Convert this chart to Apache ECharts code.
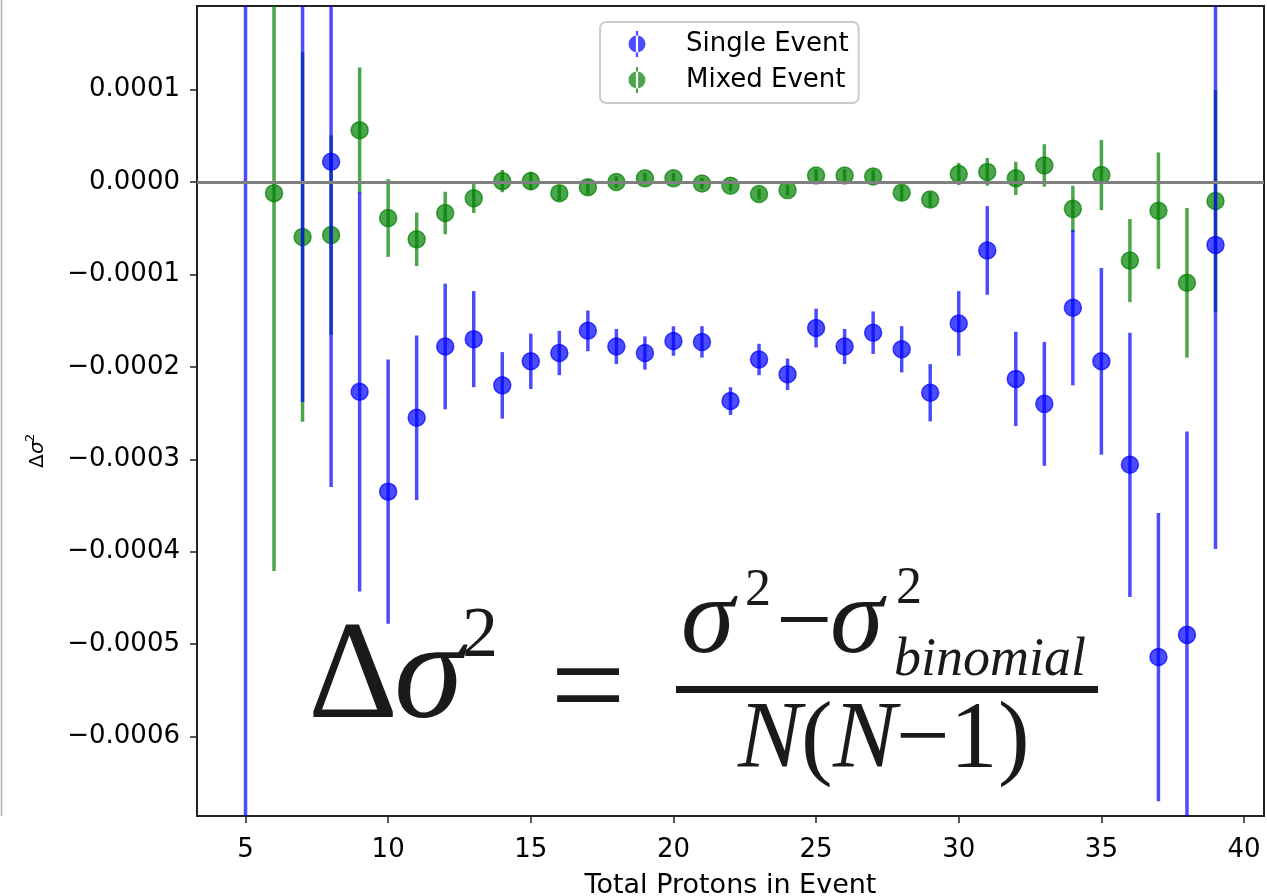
<!DOCTYPE html>
<html><head><meta charset="utf-8">
<script src="https://cdn.jsdelivr.net/npm/echarts@6/dist/echarts.min.js"></script>
<style>html,body{margin:0;padding:0;background:#fff}#c{width:1267px;height:896px}</style>
</head><body><div id="c"></div>
<script>
// ---------------- data ----------------
const protons = [5,6,7,8,9,10,11,12,13,14,15,16,17,18,19,20,21,22,23,24,25,26,27,28,29,30,31,32,33,34,35,36,37,38,39];
const seriesNames = ['Single Event', 'Mixed Event'];
// Single Event: value and error
const singleVal = [-9e-4, null, 2.5e-4, 0.22e-4, -2.27e-4, -3.35e-4, -2.55e-4, -1.78e-4, -1.70e-4, -2.20e-4, -1.94e-4, -1.85e-4, -1.61e-4, -1.78e-4, -1.85e-4, -1.72e-4, -1.73e-4, -2.37e-4, -1.92e-4, -2.08e-4, -1.58e-4, -1.78e-4, -1.63e-4, -1.81e-4, -2.28e-4, -1.53e-4, -0.74e-4, -2.13e-4, -2.40e-4, -1.36e-4, -1.94e-4, -3.06e-4, -5.14e-4, -4.90e-4, -0.68e-4];
const singleErr = [12e-4, null, 4.88e-4, 3.52e-4, 2.16e-4, 1.43e-4, 0.89e-4, 0.68e-4, 0.52e-4, 0.36e-4, 0.30e-4, 0.24e-4, 0.22e-4, 0.19e-4, 0.18e-4, 0.16e-4, 0.17e-4, 0.15e-4, 0.17e-4, 0.17e-4, 0.21e-4, 0.19e-4, 0.23e-4, 0.25e-4, 0.31e-4, 0.35e-4, 0.48e-4, 0.51e-4, 0.67e-4, 0.84e-4, 1.01e-4, 1.43e-4, 1.56e-4, 2.20e-4, 3.29e-4];
// Mixed Event: value and error
const mixedVal = [null, -0.12e-4, -0.595e-4, -0.574e-4, 0.56e-4, -0.39e-4, -0.62e-4, -0.335e-4, -0.175e-4, 0.01e-4, 0.01e-4, -0.12e-4, -0.055e-4, 0.0, 0.04e-4, 0.04e-4, -0.015e-4, -0.04e-4, -0.13e-4, -0.087e-4, 0.07e-4, 0.07e-4, 0.06e-4, -0.115e-4, -0.19e-4, 0.087e-4, 0.11e-4, 0.04e-4, 0.18e-4, -0.29e-4, 0.076e-4, -0.85e-4, -0.31e-4, -1.09e-4, -0.205e-4];
const mixedErr = [null, 4.09e-4, 2.00e-4, 1.08e-4, 0.68e-4, 0.42e-4, 0.29e-4, 0.23e-4, 0.16e-4, 0.12e-4, 0.10e-4, 0.08e-4, 0.08e-4, 0.06e-4, 0.06e-4, 0.06e-4, 0.06e-4, 0.06e-4, 0.06e-4, 0.06e-4, 0.07e-4, 0.07e-4, 0.07e-4, 0.08e-4, 0.08e-4, 0.12e-4, 0.15e-4, 0.18e-4, 0.23e-4, 0.25e-4, 0.38e-4, 0.45e-4, 0.63e-4, 0.81e-4, 1.20e-4];
// ticks
const xTicks = [5,10,15,20,25,30,35,40];
const yTicks = [-0.0006,-0.0005,-0.0004,-0.0003,-0.0002,-0.0001,0,0.0001];
const yTickLabels = ['\u22120.0006','\u22120.0005','\u22120.0004','\u22120.0003','\u22120.0002','\u22120.0001','0.0000','0.0001'];

// ---------------- chart ----------------
const X_MIN = 3.3, X_MAX = 40.7, Y_MIN = -0.000686, Y_MAX = 0.0001905;
const BLUE = 'rgba(0,0,255,0.7)', GREEN = 'rgba(0,128,0,0.7)';

function buildData(vals, errs){
  const out = [];
  for (let i = 0; i < protons.length; i++) {
    if (vals[i] == null) continue;
    out.push([protons[i], vals[i], errs[i]]);
  }
  return out;
}
function makeRender(color){
  return function(params, api){
    const x = api.value(0), v = api.value(1), e = api.value(2);
    const hi = Math.min(v + e, Y_MAX), lo = Math.max(v - e, Y_MIN);
    const children = [];
    if (hi > lo) {
      const p1 = api.coord([x, hi]), p2 = api.coord([x, lo]);
      children.push({type:'line', shape:{x1:p1[0], y1:p1[1], x2:p2[0], y2:p2[1]},
        style:{stroke:color, lineWidth:3.5}});
    }
    if (v <= Y_MAX && v >= Y_MIN) {
      const c = api.coord([x, v]);
      children.push({type:'circle', shape:{cx:c[0], cy:c[1], r:8.5},
        style:{fill:color, stroke:color, lineWidth:1.5}});
    }
    return {type:'group', children};
  };
}

// legend icon: errorbar stick + marker, with tiny corner dots that fix the icon's box
const ICON = 'path://M0,13.95h0.05v0.1h-0.05z M70.95,13.95h0.05v0.1h-0.05z M25.9,1h2.2v26h-2.2z M27,5.5a8.5,8.5 0 1,0 0.001,0z';
const SERIF = 'Liberation Serif';
function T(text, x, baseline, size, italic, align){
  return {type:'text', x:x, y:baseline - 0.3375*size, z:50,
    style:{text:text, fontFamily:SERIF, fontSize:size, fontStyle:italic?'italic':'normal',
      fill:'#1a1a1a', textAlign:align||'left', textVerticalAlign:'middle'}};
}
function S(text, x, y, size, italic){
  return {type:'text', x:x, y:y,
    style:{text:text, fontFamily:'DejaVu Sans', fontSize:size, fontStyle:italic?'italic':'normal',
      fill:'#000', textAlign:'left', textVerticalAlign:'middle'}};
}

const chart = echarts.init(document.getElementById('c'), null, {renderer:'canvas'});
chart.setOption({
  animation:false,
  backgroundColor:'#fff',
  grid:{left:197, right:3, top:6, bottom:80, show:true, borderColor:'#222', borderWidth:2,
    outerBoundsMode:'none', containLabel:false},
  legend:{
    left:600, top:22, orient:'vertical',
    data:[{name:seriesNames[0], icon:ICON},{name:seriesNames[1], icon:ICON}],
    itemWidth:71, itemHeight:28, itemGap:10, padding:[9,10,10,10],
    backgroundColor:'rgba(255,255,255,0.8)', borderColor:'#cccccc', borderWidth:2, borderRadius:6,
    textStyle:{fontFamily:'DejaVu Sans', fontSize:26, color:'#000'},
    selectedMode:false
  },
  xAxis:{
    type:'value', min:X_MIN, max:X_MAX,
    axisLine:{show:false, onZero:false},
    axisTick:{show:true, length:7, lineStyle:{color:'#222', width:1.5}, customValues:xTicks},
    axisLabel:{customValues:xTicks, fontFamily:'DejaVu Sans', fontSize:26, color:'#000', margin:21},
    splitLine:{show:false},
    name:'Total Protons in Event', nameLocation:'middle', nameGap:56,
    nameTextStyle:{fontFamily:'DejaVu Sans', fontSize:27, color:'#000'}
  },
  yAxis:{
    type:'value', min:Y_MIN, max:Y_MAX,
    axisLine:{show:false, onZero:false},
    axisTick:{show:true, length:7, lineStyle:{color:'#222', width:1.5}, customValues:yTicks},
    axisLabel:{customValues:yTicks, fontFamily:'DejaVu Sans', fontSize:26, color:'#000', margin:17,
      formatter:function(v){
        let best = 0;
        for (let i = 0; i < yTicks.length; i++) if (Math.abs(yTicks[i]-v) < Math.abs(yTicks[best]-v)) best = i;
        return yTickLabels[best];
      }},
    splitLine:{show:false}
  },
  series:[
    {type:'line', name:'zero', data:[], z:1, silent:true,
      markLine:{silent:true, symbol:'none', label:{show:false}, animation:false,
        lineStyle:{color:'#808080', width:3, type:'solid'}, data:[{yAxis:0}]}},
    {type:'custom', name:seriesNames[1], z:3, itemStyle:{color:GREEN},
      encode:{x:0, y:1}, renderItem:makeRender(GREEN), data:buildData(mixedVal, mixedErr)},
    {type:'custom', name:seriesNames[0], z:4, itemStyle:{color:BLUE},
      encode:{x:0, y:1}, renderItem:makeRender(BLUE), data:buildData(singleVal, singleErr)}
  ],
  graphic:[
    {type:'line', shape:{x1:1.5, y1:0, x2:1.5, y2:816}, style:{stroke:'#b0b0b0', lineWidth:1.5}},
    // y-axis title  Δσ² (rotated, reading upward)
    {type:'group', x:38, y:452, rotation:Math.PI/2, z:50, children:[
      S('\u0394', -16, 0, 20, false),
      S('\u03c3', -2, 0, 20, true),
      S('2', 10, -7, 13, false)
    ]},
    // formula
    T('\u0394', 308, 727, 140, false),
    T('\u03c3', 394, 727, 140, true),
    T('2', 462, 661, 72, false),
    T('=', 588, 740, 133, false, 'center'),
    {type:'rect', shape:{x:676, y:686, width:422, height:7}, style:{fill:'#1a1a1a'}, z:50},
    T('\u03c3', 681, 660, 108, true),
    T('2', 745, 609, 52, false),
    T('\u2212', 776, 660, 100, false),
    T('\u03c3', 830, 660, 108, true),
    T('2', 896, 607, 52, false),
    T('binomial', 894, 679, 54, true),
    T('N', 738, 774, 95, true),
    T('(', 801, 774, 95, false),
    T('N', 833, 774, 95, true),
    T('\u2212', 896, 774, 95, false),
    T('1', 950, 774, 95, false),
    T(')', 998, 774, 95, false)
  ]
});
</script>
</body></html>
